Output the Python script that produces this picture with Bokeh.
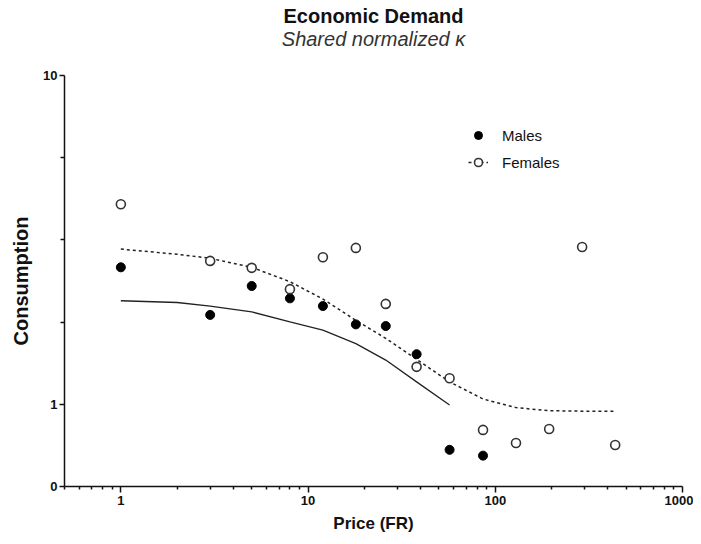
from bokeh.plotting import figure
from bokeh.models import (FixedTicker, CustomJSTickFormatter, Range1d, Title,
                          Legend, LegendItem)
from bokeh.embed import file_html
from bokeh.resources import INLINE

# ---- data ----
price = [1, 3, 5, 8, 12, 18, 26, 38, 57, 86, 129, 194, 291, 437]
males_price = [1, 3, 5, 8, 12, 18, 26, 38, 57, 86]
males_cons = [2.61, 1.87, 2.29, 2.10, 1.99, 1.75, 1.73, 1.42, 0.727, 0.698]
females_cons = [4.06, 2.73, 2.60, 2.24, 2.80, 2.99, 2.02, 1.30, 1.20,
                0.836, 0.763, 0.841, 3.01, 0.752]

male_fit_price = [1, 2, 3, 5, 8, 12, 18, 26, 38, 57]
male_fit_cons = [2.065, 2.04, 1.99, 1.91, 1.78, 1.68, 1.53, 1.363, 1.17, 0.995]
female_fit_price = [1, 2, 3, 5, 8, 12, 18, 26, 38, 57, 86, 129, 194, 291, 437]
female_fit_cons = [2.965, 2.86, 2.78, 2.61, 2.36, 2.09, 1.80, 1.587, 1.37,
                   1.17, 1.038, 0.977, 0.956, 0.953, 0.952]

x_major = [1, 10, 100, 1000]
y_bottom = 10 ** -0.25
y_major = [y_bottom, 1, 10]
y_minor = [10 ** 0.25, 10 ** 0.5, 10 ** 0.75]
x_minor = [m * d for d in (0.1, 1, 10, 100) for m in range(2, 10) if 0.5 <= m * d <= 1000]

title_text = "Economic Demand"
subtitle_text = "Shared normalized \u03ba"

FONT = "Liberation Sans"

p = figure(x_axis_type="log", y_axis_type="log",
           x_range=Range1d(0.5, 1000), y_range=Range1d(y_bottom, 10),
           frame_width=618, frame_height=411,
           min_border_left=64, min_border_right=11, min_border_top=75,
           min_border_bottom=50,
           output_backend="svg", toolbar_location=None,
           title=title_text)
p.title.align = "center"
p.title.text_font = FONT
p.title.text_font_size = "20px"
p.title.text_font_style = "bold"
p.title.text_color = "#111111"
p.title.standoff = -52

p.add_layout(Title(text=subtitle_text, align="center",
                   text_font=FONT, text_font_size="20px",
                   text_font_style="italic", text_color="#333333",
                   standoff=51), "above")

p.outline_line_color = None
p.xgrid.visible = False
p.ygrid.visible = False
p.background_fill_color = "white"
p.border_fill_color = "white"

for ax in (p.xaxis[0], p.yaxis[0]):
    ax.axis_line_width = 1.5
    ax.axis_line_color = "#111111"
    ax.major_tick_line_width = 1.5
    ax.minor_tick_line_width = 1.5
    ax.major_tick_line_color = "#111111"
    ax.minor_tick_line_color = "#111111"
    ax.major_tick_in = 0
    ax.minor_tick_in = 0
    ax.major_label_text_font = FONT
    ax.major_label_text_font_style = "bold"
    ax.major_label_text_font_size = "13px"
    ax.major_label_text_color = "#111111"
    ax.axis_label_text_font = FONT
    ax.axis_label_text_font_style = "bold"
    ax.axis_label_text_color = "#111111"

p.xaxis.axis_label_text_font_size = "17px"
p.yaxis.axis_label_text_font_size = "20px"
p.xaxis.ticker = FixedTicker(ticks=x_major, minor_ticks=x_minor)
p.yaxis.ticker = FixedTicker(ticks=y_major, minor_ticks=y_minor)
p.xaxis.formatter = CustomJSTickFormatter(code="return tick.toFixed(0);")
p.yaxis.formatter = CustomJSTickFormatter(code="return tick < 0.9 ? '0' : tick.toFixed(0);")
p.xaxis.major_tick_out = 6
p.xaxis.minor_tick_out = 3
p.yaxis.major_tick_out = 5
p.yaxis.minor_tick_out = 4
p.xaxis.major_label_standoff = 3
p.yaxis.major_label_standoff = 2
p.xaxis.axis_label = "Price (FR)"
p.yaxis.axis_label = "Consumption"
p.xaxis.axis_label_standoff = 6
p.yaxis.axis_label_standoff = 8

# fitted curves
p.line(male_fit_price, male_fit_cons, line_color="#222222", line_width=1.3)
f_line = p.line(female_fit_price, female_fit_cons, line_color="#222222",
                line_width=1.5, line_dash="3 3")

# points
m_pts = p.scatter(males_price, males_cons, marker="circle", size=9,
                  fill_color="black", line_color="black", line_width=1)
f_pts = p.scatter(price, females_cons, marker="circle", size=9,
                  fill_color="white", line_color="#333333", line_width=1.6)

legend = Legend(items=[LegendItem(label="Males", renderers=[m_pts]),
                       LegendItem(label="Females", renderers=[f_line, f_pts])],
                location=(404, 314), glyph_width=20, glyph_height=20,
                label_standoff=14, spacing=7, padding=0, margin=0,
                border_line_color=None, background_fill_alpha=0,
                label_text_font=FONT, label_text_font_size="15px",
                label_text_color="#111111")
p.add_layout(legend)

open("out.html", "w").write(file_html(p, INLINE))
